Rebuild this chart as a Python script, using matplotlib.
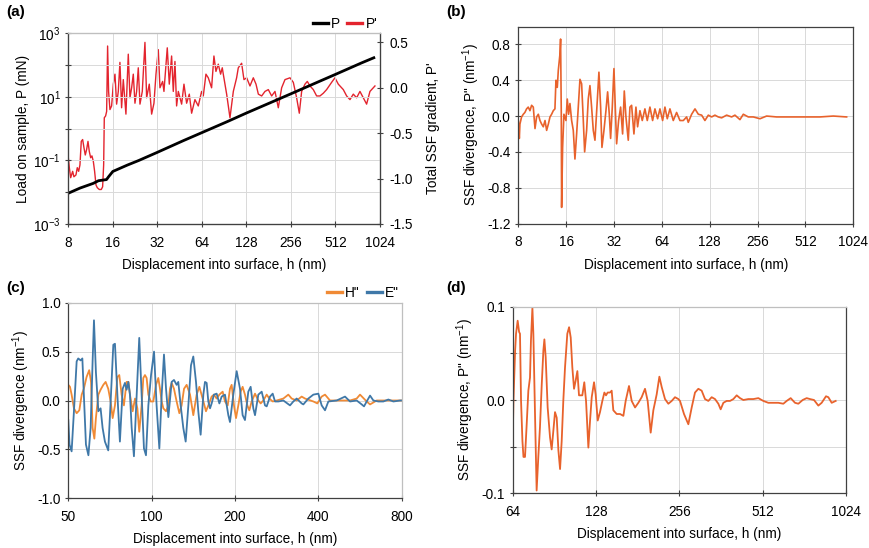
import matplotlib
matplotlib.use("Agg")
import matplotlib.pyplot as plt
from matplotlib.ticker import FixedLocator, FixedFormatter, NullLocator
from matplotlib.lines import Line2D

plt.rcParams['font.family'] = ['Liberation Sans', 'DejaVu Sans']
plt.rcParams['mathtext.fontset'] = 'custom'
plt.rcParams['mathtext.rm'] = 'Liberation Sans'
plt.rcParams['mathtext.it'] = 'Liberation Sans:italic'
plt.rcParams['mathtext.bf'] = 'Liberation Sans:bold'
plt.rcParams['axes.unicode_minus'] = False

# ---------------- data ----------------
# (a) load P and total SSF gradient P'
a_P_h = [8, 9.6, 11.8, 12.8, 14.5, 15, 16, 20, 24, 32, 48, 64, 96, 128, 192, 256, 384, 512, 768, 930]
a_P = [0.0093, 0.0135, 0.019, 0.023, 0.025, 0.031, 0.045, 0.071, 0.10, 0.18, 0.42, 0.75, 1.7, 3.1,
       7.0, 12.5, 28.5, 51, 117, 170]

a_dP_h = [8.00, 8.13, 8.30, 8.56, 8.73, 9.01, 9.20, 9.40, 9.59, 9.79, 10.00, 10.21, 10.42, 10.64, 10.87,
          11.09, 11.33, 11.56, 11.81, 12.05, 12.31, 12.56, 12.96, 13.37, 13.65, 13.87, 14.01, 14.30, 14.53,
          14.75, 14.98, 15.30, 15.70, 16.12, 16.54, 16.97, 17.42, 17.87, 18.34, 18.83, 19.62, 20.35, 20.89,
          21.44, 22.00, 22.58, 23.17, 23.78, 24.41, 25.31, 26.38, 27.08, 28.22, 29.27, 30.35, 31.32, 32.47,
          33.32, 34.73, 35.46, 37.34, 38.53, 39.95, 41.00, 42.08, 43.18, 44.34, 45.49, 46.69, 48.42, 50.47,
          52.61, 54.55, 57.44, 60.50, 63.73, 65.40, 68.17, 70.70, 74.45, 77.20, 79.65, 82.60, 85.66, 87.91,
          89.3, 94.1, 99.1, 104.4, 109.9, 112.8, 118.8, 123.2, 128.5, 135.3, 142.5, 148.6, 154.1, 162.3,
          170.9, 180.0, 189.6, 199.7, 210.3, 221.5, 233.3, 252.2, 265.6, 279.7, 291.6, 302.4, 318.5, 330.3,
          344.3, 362.6, 381.9, 402.2, 423.6, 446.1, 482.3, 507.9, 535.0, 578.4, 609.2, 641.6, 675.7, 711.7,
          749.5, 789.4, 831.4, 875.7, 922.3, 946.5]
a_dP = [-0.77, -0.88, -0.99, -0.92, -0.98, -0.96, -0.88, -0.92, -0.85, -0.59, -0.57, -0.66, -0.74, -0.68, -0.59,
        -0.70, -0.77, -0.75, -0.81, -0.92, -1.07, -1.10, -1.12, -1.12, -1.09, -0.85, -0.33, -0.31, -0.26,
        0.46, -0.04, -0.24, -0.20, 0.04, 0.15, -0.18, -0.04, 0.28, -0.22, 0.09, -0.29, 0.37, -0.11,
        0.0, 0.15, -0.17, -0.04, 0.22, -0.18, -0.04, 0.50, -0.11, 0.04, -0.29, -0.17, 0.15, 0.42,
        0.0, 0.07, -0.04, 0.44, 0.04, 0.35, -0.04, 0.29, -0.20, -0.04, -0.11, -0.18, 0.04, -0.17,
        -0.07, -0.28, -0.13, -0.20, -0.04, -0.09, 0.15, 0.11, 0.0, 0.35, 0.18, 0.26, 0.15, 0.22,
        0.15, -0.07, -0.33, -0.04, 0.11, 0.22, 0.27, 0.09, 0.11, 0.02, 0.11, 0.04, -0.07, -0.09,
        -0.04, -0.02, -0.09, -0.04, -0.22, 0.0, 0.09, 0.11, 0.06, -0.11, -0.28, -0.04, 0.04, 0.07,
        0.02, -0.02, -0.09, -0.09, -0.06, -0.02, 0.06, 0.11, 0.04, -0.02, -0.09, -0.13, -0.07, -0.11,
        -0.04, -0.11, -0.18, -0.04, 0.0, 0.02]

# (b) SSF divergence P''
b_h = [8.0, 8.12, 8.19, 8.39, 8.60, 8.80, 9.02, 9.24, 9.47, 9.70, 9.94, 10.19, 10.43, 10.69, 10.95, 11.22,
       11.49, 11.78, 12.06, 12.36, 12.66, 12.96, 13.28, 13.60, 13.80, 14.07, 14.28, 14.62, 14.76, 14.91,
       14.98, 15.20, 15.49, 15.95, 16.26, 16.58, 16.90, 17.32, 17.74, 18.17, 18.62, 19.07, 19.54, 20.02,
       20.51, 20.91, 21.52, 22.04, 22.58, 23.13, 23.70, 24.28, 25.11, 25.72, 26.36, 26.87, 27.66, 28.47,
       29.17, 29.88, 30.46, 31.21, 31.97, 32.59, 33.23, 34.20, 35.21, 36.24, 37.13, 38.03, 39.34, 40.30,
       41.29, 42.70, 43.96, 45.03, 46.58, 48.18, 50.07, 51.80, 53.84, 55.96, 57.89, 60.17, 62.24, 64.69,
       66.91, 69.21, 71.93, 75.49, 79.22, 83.14, 87.3, 91.6, 93.8, 98.5, 103.4, 108.5, 113.9, 119.4,
       125.4, 131.6, 138.0, 144.9, 152.1, 163.5, 175.8, 184.4, 198.3, 208.2, 223.8, 240.6, 265.0, 291.8,
       337.3, 409.2, 496.3, 631.6, 766.3, 929.8]
b_P2 = [-0.05, -0.25, -0.09, -0.01, 0.02, 0.04, 0.08, 0.10, 0.06, 0.12, 0.10, -0.14, -0.01, 0.02, -0.05, -0.09,
        -0.12, -0.05, -0.16, -0.09, -0.01, 0.02, 0.06, 0.08, 0.40, 0.32, 0.51, 0.69, 0.86, 0.02,
        -1.02, -0.35, 0.02, -0.05, 0.19, 0.02, 0.14, -0.05, -0.16, -0.48, -0.20, 0.10, 0.41, 0.36,
        -0.05, -0.40, -0.16, 0.19, 0.34, 0.10, -0.16, -0.27, 0.17, 0.49, 0.10, -0.35, -0.16, 0.06,
        0.27, 0.02, -0.25, 0.10, 0.53, 0.10, -0.31, -0.05, 0.10, -0.20, 0.28, -0.01, -0.27, 0.10,
        0.12, -0.20, 0.10, -0.12, 0.06, -0.05, 0.08, -0.05, 0.10, -0.05, 0.08, -0.03, 0.08, -0.05,
        0.10, -0.03, 0.08, -0.05, 0.04, -0.05, -0.05, -0.01, -0.07, 0.02, 0.08, 0.02, 0.01, -0.05,
        0.01, -0.01, 0.01, -0.01, -0.02, 0.01, -0.01, 0.01, -0.04, 0.02, -0.01, -0.01, -0.03, 0.0,
        -0.01, -0.01, -0.01, -0.01, 0.0, -0.01]

# (c) H'' and E''
c_E_h = [50.0, 50.5, 51.4, 52.4, 53.6, 54.3, 55.4, 56.2, 56.9, 57.9, 59.1, 60.2, 61.2, 61.9, 62.9, 64.2,
         65.4, 66.5, 67.8, 69.7, 71.3, 72.7, 73.7, 75.2, 76.8, 78.6, 80.1, 81.2, 82.4, 83.5, 84.7, 86.3,
         88.3, 90.2, 92.0, 93.8, 95.4, 97.3, 99.5, 102.0, 104.2, 106.6, 108.7, 110.8, 112.7, 114.9, 118.1,
         120.4, 123.1, 124.8, 127.3, 130.1, 132.7, 135.7, 138.7, 141.4, 144.6, 147.4, 150.3, 153.7, 155.8,
         158.0, 160.2, 162.5, 164.7, 167.9, 171.7, 175.6, 179.0, 184.0, 189.2, 191.8, 197.2, 202.8, 208.5,
         213.1, 217.3, 223.4, 227.8, 232.9, 236.2, 242.8, 249.7, 256.7, 260.3, 267.6, 273.6, 279.0, 286.8,
         299.0, 316.0, 324.9, 334.0, 348.2, 353.1, 368.1, 383.7, 400.0, 411.2, 422.8, 434.7, 465.9, 499.3,
         520.6, 550.2, 573.6, 584.8, 597.9, 614.9, 632.1, 658.9, 686.8, 716.0, 746.4, 788.9, 800.0]
c_E = [-0.2, -0.45, -0.52, -0.11, 0.40, 0.43, 0.41, 0.43, 0.06, -0.45, -0.56, -0.28, 0.40, 0.82, 0.29, -0.11,
       -0.08, -0.28, -0.42, -0.51, 0.06, 0.57, 0.58, 0.06, -0.42, 0.12, 0.18, 0.11, 0.19, 0.06, -0.28, -0.57,
       0.06, 0.64, 0.06, -0.49, -0.56, -0.05, 0.26, 0.50, -0.05, -0.49, 0.06, 0.47, 0.12, -0.17, 0.19,
       0.21, 0.16, 0.19, -0.05, -0.28, -0.42, -0.05, 0.36, 0.45, 0.19, -0.11, -0.35, 0.06, 0.19,
       0.18, -0.01, -0.08, -0.03, 0.06, 0.07, -0.03, 0.04, 0.06, -0.15, -0.22, 0.06, 0.30, 0.12,
       -0.15, -0.20, 0.09, 0.14, -0.08, -0.15, 0.06, 0.09, -0.05, -0.06, 0.04, 0.07, -0.01, -0.01,
       0.0, -0.05, -0.01, 0.02, -0.03, -0.04, 0.02, 0.06, 0.07, -0.05, -0.10, -0.01, 0.0, 0.04,
       -0.01, 0.0, -0.04, -0.06, -0.01, 0.05, 0.0, -0.01, -0.01, 0.01, -0.01, 0.0, 0.0]

c_H_h = [50.0, 50.7, 51.4, 52.4, 53.6, 54.8, 55.9, 56.9, 58.2, 59.5, 60.4, 61.2, 62.1, 62.9, 64.2, 65.4,
         66.9, 68.2, 69.7, 71.1, 72.3, 73.7, 75.2, 76.4, 77.9, 79.4, 81.2, 82.4, 83.5, 85.4, 87.1, 88.8,
         90.2, 92.0, 93.3, 94.6, 95.9, 97.3, 99.2, 101.4, 103.7, 105.7, 107.2, 108.7, 110.2, 112.7, 114.9,
         116.5, 118.1, 120.4, 123.1, 125.9, 128.3, 130.9, 133.8, 137.6, 141.4, 145.4, 148.7, 152.8, 157.1,
         160.2, 164.7, 167.9, 171.7, 175.6, 180.5, 184.0, 188.2, 191.8, 194.5, 198.3, 201.7, 205.6, 209.6,
         213.1, 217.3, 221.6, 225.3, 229.7, 236.2, 242.8, 247.6, 253.1, 260.3, 266.1, 273.6, 282.8, 299.0,
         311.6, 320.4, 334.0, 348.2, 358.0, 383.7, 396.7, 411.2, 422.8, 440.7, 479.0, 520.6, 550.2, 565.7,
         597.9, 614.9, 649.8, 706.2, 788.9, 800.0]
c_H = [0.16, 0.14, 0.06, -0.08, -0.13, -0.10, 0.06, 0.12, 0.24, 0.31, 0.19, -0.28, -0.39, -0.18, 0.06, 0.11,
       0.16, 0.19, 0.12, -0.01, -0.18, -0.05, 0.24, 0.26, 0.06, -0.05, 0.19, 0.19, 0.06, -0.11, 0.02, -0.08,
       -0.32, -0.05, 0.23, 0.26, 0.23, 0.06, -0.01, -0.01, 0.16, 0.23, 0.12, -0.01, -0.08, -0.11, -0.05,
       0.12, 0.18, 0.12, -0.01, -0.13, -0.05, 0.12, 0.16, 0.06, -0.15, 0.06, 0.14, 0.02, -0.11,
       -0.05, 0.04, 0.06, 0.02, 0.06, 0.09, -0.01, -0.05, 0.12, 0.16, -0.05, -0.18, -0.05, 0.09,
       0.14, 0.06, -0.05, -0.10, -0.01, 0.07, 0.0, -0.03, 0.0, 0.06, 0.02, -0.01, 0.0, 0.02,
       0.06, 0.02, 0.0, 0.04, 0.02, -0.01, -0.03, 0.04, 0.06, 0.0, 0.0, 0.0, 0.02, 0.06,
       -0.01, -0.04, 0.0, 0.0, 0.0, 0.0]

# (d) P'' for h > 64 nm
d_h = [64.0, 64.4, 65.3, 65.8, 66.7, 67.5, 68.0, 68.6, 69.4, 70.0, 70.9, 71.9, 72.9, 73.9, 74.5, 75.4, 76.0,
       77.1, 78.1, 79.2, 80.3, 81.5, 82.6, 83.3, 84.2, 85.6, 87.3, 88.5, 90.0, 91.0, 92.3, 93.6, 94.9, 96.2,
       97.5, 98.9, 100.8, 102.3, 103.7, 105.1, 106.6, 108.1, 109.6, 111.1, 112.7, 114.2, 116.1, 117.8,
       120.1, 121.8, 123.5, 125.9, 127.6, 129.8, 132.3, 134.9, 137.2, 139.1, 141.0, 143.8, 145.8, 147.8,
       152.0, 156.3, 160.7, 163.8, 168.4, 172.2, 177.1, 182.0, 187.1, 192.4, 196.7, 201.7, 206.2, 212.0,
       216.8, 221.0, 227.2, 233.6, 240.2, 246.9, 253.9, 257.4, 266.1, 275.9, 283.7, 291.6, 299.8, 308.2,
       316.9, 325.8, 335.0, 344.4, 354.1, 361.0, 369.2, 379.5, 390.2, 401.2, 412.5, 424.1, 436.0, 454.5,
       473.8, 493.9, 514.8, 536.7, 559.5, 583.2, 608.0, 625.1, 646.3, 670.0, 688.9, 714.1, 738.3, 759.0,
       784.7, 813.5, 836.4, 867.1, 884.0, 909.0, 939.7]
d_P2 = [-0.044, -0.001, 0.053, 0.071, 0.085, 0.073, 0.071, -0.001, -0.044, -0.061, -0.061, -0.026, 0.010,
        0.024, 0.064, 0.099, 0.071, -0.019, -0.097, -0.061, -0.029, 0.017, 0.053, 0.065, 0.046, -0.008,
        -0.040, -0.053, -0.029, -0.013, -0.019, -0.054, -0.074, -0.044, -0.001, 0.035, 0.071, 0.078, 0.067,
        0.035, 0.012, 0.021, 0.031, 0.005, 0.005, 0.005, 0.019, -0.001, -0.051, -0.022, 0.003, 0.019, 0.006,
        -0.022, -0.013, -0.001, 0.008, 0.005, 0.008, 0.008, 0.010, -0.011, -0.015, -0.015, -0.017, -0.001,
        0.015, -0.001, -0.008, -0.003, 0.003, 0.012, -0.001, -0.035, -0.011, 0.006, 0.025, 0.014, 0.001,
        -0.004, -0.001, 0.003, 0.001, -0.001, -0.015, -0.026, -0.008, 0.008, 0.012, 0.010, 0.001, -0.001,
        0.003, 0.001, -0.004, -0.010, -0.003, -0.001, -0.001, 0.001, 0.005, 0.002, 0.0, 0.001, 0.001, 0.002,
        -0.001, -0.003, -0.003, -0.003, -0.004, -0.001, 0.002, -0.003, -0.004, 0.0, 0.002, 0.001, 0.0,
        -0.006, -0.003, 0.004, 0.003, -0.003, -0.001]

a_xticks = [8, 16, 32, 64, 128, 256, 512, 1024]
c_xticks = [50, 100, 200, 400, 800]
d_xticks = [64, 128, 256, 512, 1024]

# ---------------- style ----------------
FS = 9.8
GRID = '#d9d9d9'
AX = '#404040'
XLAB = 'Displacement into surface, h (nm)'

fig = plt.figure(figsize=(8.7, 5.48), dpi=100)


def style(ax, xticks, xlim, base=2):
    ax.set_xscale('log', base=base)
    ax.set_xlim(*xlim)
    ax.xaxis.set_major_locator(FixedLocator(xticks))
    ax.xaxis.set_major_formatter(FixedFormatter([str(t) for t in xticks]))
    ax.xaxis.set_minor_locator(NullLocator())
    ax.grid(True, color=GRID, lw=0.7)
    ax.set_axisbelow(True)
    ax.tick_params(direction='inout', length=5, width=0.8, color=AX, labelsize=FS, pad=3)
    ax.tick_params(axis='x', pad=6)
    for s in ax.spines.values():
        s.set_color(AX)
        s.set_linewidth(0.9)
    ax.set_xlabel(XLAB, fontsize=FS, labelpad=6)


# ---- (a)
axa = fig.add_axes([68.3 / 870, 1 - 224 / 548, 311.7 / 870, 190.7 / 548])
axa2 = axa.twinx()
axa.set_zorder(axa2.get_zorder() + 1)
axa.patch.set_visible(False)
style(axa, a_xticks, (8, 1024))
axa.set_yscale('log')
axa.set_ylim(1e-3, 1e3)
axa.yaxis.set_major_locator(FixedLocator([1e-3, 1e-2, 1e-1, 1, 1e1, 1e2, 1e3]))
axa.yaxis.set_major_formatter(FixedFormatter([r'$\mathregular{10^{-3}}$', '', r'$\mathregular{10^{-1}}$', '',
                                              r'$\mathregular{10^{1}}$', '', r'$\mathregular{10^{3}}$']))
axa.yaxis.set_minor_locator(NullLocator())
axa.plot(a_P_h, a_P, color='black', lw=2.0)
axa.set_ylabel('Load on sample, P (mN)', fontsize=FS, labelpad=2)
axa.spines['top'].set_color('#bfbfbf')
axa2.plot(a_dP_h, a_dP, color='#e3242e', lw=1.0)
axa2.set_ylim(-1.5, 0.6)
axa2.set_yticks([-1.5, -1.0, -0.5, 0.0, 0.5])
axa2.set_yticklabels(['-1.5', '-1.0', '-0.5', '0.0', '0.5'])
axa2.tick_params(direction='inout', length=5, width=0.8, color=AX, labelsize=FS, pad=4)
for s in axa2.spines.values():
    s.set_color(AX)
axa2.spines['top'].set_color('#bfbfbf')
axa2.set_ylabel("Total SSF gradient, P'", fontsize=FS, labelpad=10)
handles = [Line2D([], [], color='black', lw=2.4), Line2D([], [], color='#e3242e', lw=2.4)]
axa.legend(handles, ['P', "P'"], loc='lower right', bbox_to_anchor=(1.0, 1.0), ncol=2, frameon=False,
           fontsize=FS, handlelength=1.1, handletextpad=0.25, columnspacing=0.5, borderaxespad=0.1,
           borderpad=0.1)
fig.text(6 / 870, 1 - 12 / 548, '(a)', fontsize=11, fontweight='bold', va='center')

# ---- (b)
axb = fig.add_axes([518.3 / 870, 1 - 223.5 / 548, 335 / 870, 197 / 548])
style(axb, a_xticks, (8, 1024))
axb.plot(b_h, b_P2, color='#e8622c', lw=1.2)
axb.set_ylim(-1.2, 1.0)
axb.set_yticks([-1.2, -0.8, -0.4, 0.0, 0.4, 0.8])
axb.set_yticklabels(['-1.2', '-0.8', '-0.4', '0.0', '0.4', '0.8'])
axb.set_ylabel(r'SSF divergence, P" (nm$^{\mathregular{-1}}$)', fontsize=FS, labelpad=4)
fig.text(446 / 870, 1 - 12 / 548, '(b)', fontsize=11, fontweight='bold', va='center')

# ---- (c)
axc = fig.add_axes([68.3 / 870, 1 - 498.3 / 548, 333.4 / 870, 195.6 / 548])
style(axc, c_xticks, (50, 800))
axc.plot(c_H_h, c_H, color='#f08a35', lw=1.3)
axc.plot(c_E_h, c_E, color='#3f78a8', lw=1.3)
axc.set_ylim(-1.0, 1.0)
axc.set_yticks([-1.0, -0.5, 0.0, 0.5, 1.0])
axc.set_yticklabels(['-1.0', '-0.5', '0.0', '0.5', '1.0'])
axc.set_ylabel(r'SSF divergence (nm$^{\mathregular{-1}}$)', fontsize=FS, labelpad=4)
axc.spines['top'].set_color('#bfbfbf')
axc.spines['right'].set_color('#bfbfbf')
handles = [Line2D([], [], color='#f08a35', lw=2.4), Line2D([], [], color='#3f78a8', lw=2.4)]
axc.legend(handles, ['H"', 'E"'], loc='lower right', bbox_to_anchor=(1.0, 1.0), ncol=2, frameon=False,
           fontsize=FS, handlelength=1.1, handletextpad=0.25, columnspacing=0.5, borderaxespad=0.1,
           borderpad=0.1)
fig.text(6 / 870, 1 - 288 / 548, '(c)', fontsize=11, fontweight='bold', va='center')

# ---- (d)
axd = fig.add_axes([512.7 / 870, 1 - 493.3 / 548, 333.3 / 870, 186.6 / 548])
style(axd, d_xticks, (64, 1024))
axd.plot(d_h, d_P2, color='#e8622c', lw=1.3)
axd.set_ylim(-0.1, 0.1)
axd.set_yticks([-0.1, -0.05, 0.0, 0.05, 0.1])
axd.set_yticklabels(['-0.1', '', '0.0', '', '0.1'])
axd.set_ylabel(r'SSF divergence, P" (nm$^{\mathregular{-1}}$)', fontsize=FS, labelpad=4)
axd.spines['top'].set_color('#bfbfbf')
fig.text(446 / 870, 1 - 288 / 548, '(d)', fontsize=11, fontweight='bold', va='center')

fig.savefig('out.png', dpi=100)
